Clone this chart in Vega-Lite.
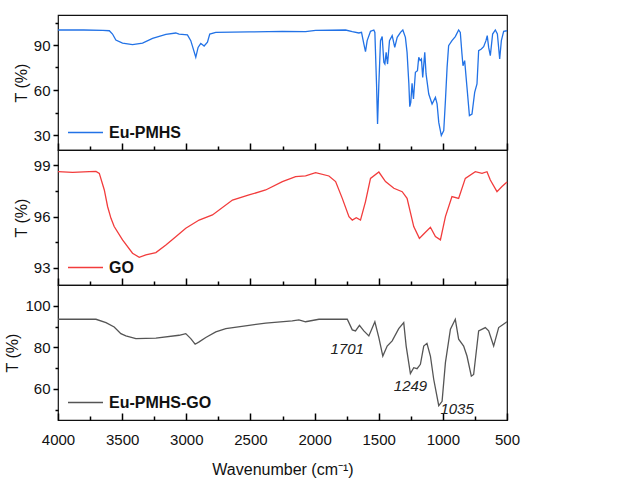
{
  "$schema": "https://vega.github.io/schema/vega-lite/v6.json",
  "padding": {"left": 4, "top": 14, "right": 5, "bottom": 5},
  "spacing": 0,
  "bounds": "flush",
  "config": {
    "font": "Liberation Sans",
    "view": {"stroke": "#111", "strokeWidth": 1.2},
    "axis": {"grid": false, "domain": false, "format": "d", "labelFlush": false, "labelFont": "Liberation Sans", "labelFontSize": 15, "labelColor": "#111", "titleFont": "Liberation Sans", "titleFontSize": 16, "titleFontWeight": "normal", "titleColor": "#111"},
    "legend": {"orient": "bottom-left", "offset": 9, "padding": 0, "symbolType": "stroke", "symbolSize": 1225, "symbolStrokeWidth": 1.5, "labelFontSize": 16, "labelFontWeight": "bold", "labelColor": "#111", "labelOffset": 5, "labelFont": "Liberation Sans"}
  },
  "datasets": {
    "pmhs": [
      {"w":4000,"t":100},{"w":3800,"t":100},{"w":3650,"t":99.7},{"w":3600,"t":99.5},{"w":3575,"t":97.3},{"w":3549,"t":93.3},{"w":3497,"t":91.3},{"w":3419,"t":90.2},{"w":3341,"t":91.3},{"w":3263,"t":94.4},{"w":3159,"t":97.1},{"w":3082,"t":98},{"w":3056,"t":97.3},{"w":2991,"t":96.7},{"w":2965,"t":92.9},{"w":2926,"t":81.8},{"w":2908,"t":88.4},{"w":2887,"t":91.1},{"w":2861,"t":89.3},{"w":2835,"t":91.8},{"w":2817,"t":97.3},{"w":2770,"t":98.4},{"w":2511,"t":98.7},{"w":2251,"t":99.1},{"w":2070,"t":98.9},{"w":1992,"t":99.8},{"w":1758,"t":100},{"w":1706,"t":98.9},{"w":1655,"t":98},{"w":1634,"t":98.4},{"w":1616,"t":90.7},{"w":1603,"t":85.6},{"w":1590,"t":92.9},{"w":1564,"t":99.1},{"w":1538,"t":100},{"w":1530,"t":98.4},{"w":1517,"t":64},{"w":1509,"t":37.3},{"w":1499,"t":64},{"w":1486,"t":92.9},{"w":1473,"t":95.6},{"w":1460,"t":78.4},{"w":1452,"t":77.3},{"w":1442,"t":85.1},{"w":1431,"t":77.3},{"w":1416,"t":92.9},{"w":1395,"t":96.2},{"w":1375,"t":88.4},{"w":1356,"t":95.1},{"w":1330,"t":98.4},{"w":1312,"t":100},{"w":1292,"t":95.1},{"w":1279,"t":85.1},{"w":1265,"t":64},{"w":1258,"t":48.9},{"w":1250,"t":51.8},{"w":1240,"t":64.4},{"w":1229,"t":54},{"w":1214,"t":71.8},{"w":1198,"t":72.9},{"w":1188,"t":81.8},{"w":1177,"t":79.6},{"w":1167,"t":80.7},{"w":1157,"t":68.4},{"w":1141,"t":85.1},{"w":1131,"t":70.7},{"w":1110,"t":57.3},{"w":1084,"t":50.7},{"w":1058,"t":55.1},{"w":1045,"t":50.7},{"w":1032,"t":38.4},{"w":1012,"t":29.6},{"w":993,"t":32.9},{"w":980,"t":52.9},{"w":967,"t":75.1},{"w":955,"t":89.6},{"w":929,"t":92.9},{"w":903,"t":95.6},{"w":877,"t":100},{"w":864,"t":98.4},{"w":851,"t":84},{"w":843,"t":76.2},{"w":830,"t":79.6},{"w":812,"t":61.8},{"w":793,"t":42.9},{"w":773,"t":44},{"w":752,"t":58.4},{"w":734,"t":64},{"w":721,"t":86.2},{"w":700,"t":87.3},{"w":682,"t":88.9},{"w":664,"t":92.9},{"w":654,"t":96.2},{"w":643,"t":88.4},{"w":630,"t":82.9},{"w":612,"t":97.3},{"w":591,"t":100},{"w":575,"t":97.3},{"w":557,"t":80.7},{"w":544,"t":92.9},{"w":526,"t":99.1},{"w":500,"t":99.5}
    ],
    "go": [
      {"w":4000,"t":98.63},{"w":3886,"t":98.59},{"w":3756,"t":98.63},{"w":3704,"t":98.65},{"w":3678,"t":98.53},{"w":3639,"t":97.56},{"w":3613,"t":96.58},{"w":3587,"t":95.9},{"w":3562,"t":95.42},{"w":3497,"t":94.64},{"w":3419,"t":93.86},{"w":3367,"t":93.62},{"w":3315,"t":93.76},{"w":3237,"t":93.9},{"w":3159,"t":94.34},{"w":3082,"t":94.83},{"w":3004,"t":95.32},{"w":2900,"t":95.8},{"w":2796,"t":96.1},{"w":2640,"t":96.97},{"w":2511,"t":97.27},{"w":2381,"t":97.56},{"w":2251,"t":98.05},{"w":2148,"t":98.34},{"w":2070,"t":98.38},{"w":1992,"t":98.57},{"w":1888,"t":98.38},{"w":1836,"t":98.05},{"w":1784,"t":97.07},{"w":1732,"t":96},{"w":1706,"t":95.8},{"w":1675,"t":95.94},{"w":1642,"t":95.8},{"w":1603,"t":96.88},{"w":1564,"t":98.24},{"w":1499,"t":98.61},{"w":1447,"t":98.05},{"w":1382,"t":97.66},{"w":1317,"t":97.46},{"w":1279,"t":97.07},{"w":1227,"t":95.42},{"w":1183,"t":94.73},{"w":1157,"t":94.93},{"w":1097,"t":95.38},{"w":1058,"t":94.83},{"w":1019,"t":94.64},{"w":980,"t":96},{"w":929,"t":97.17},{"w":877,"t":97.07},{"w":825,"t":98.24},{"w":747,"t":98.63},{"w":695,"t":98.53},{"w":656,"t":98.63},{"w":630,"t":98.14},{"w":578,"t":97.46},{"w":539,"t":97.76},{"w":500,"t":98.03}
    ],
    "pmhsgo": [
      {"w":4000,"t":93.5},{"w":3704,"t":93.5},{"w":3626,"t":91.9},{"w":3562,"t":89.8},{"w":3510,"t":86.6},{"w":3471,"t":85.5},{"w":3393,"t":84.2},{"w":3237,"t":84.4},{"w":3056,"t":85.8},{"w":3004,"t":86.6},{"w":2965,"t":84.2},{"w":2931,"t":81.5},{"w":2900,"t":82.6},{"w":2848,"t":84.7},{"w":2770,"t":87.4},{"w":2692,"t":89},{"w":2511,"t":90.6},{"w":2381,"t":91.6},{"w":2174,"t":92.7},{"w":2122,"t":93.2},{"w":2070,"t":92.3},{"w":1966,"t":93.5},{"w":1745,"t":93.5},{"w":1706,"t":88.4},{"w":1681,"t":87.9},{"w":1650,"t":90.6},{"w":1616,"t":87.9},{"w":1577,"t":85.5},{"w":1530,"t":92.3},{"w":1499,"t":84.7},{"w":1468,"t":75.8},{"w":1434,"t":80.6},{"w":1395,"t":83.1},{"w":1344,"t":89},{"w":1305,"t":91.9},{"w":1286,"t":80.6},{"w":1253,"t":67.4},{"w":1227,"t":70.2},{"w":1201,"t":69.7},{"w":1175,"t":71.8},{"w":1149,"t":80.6},{"w":1124,"t":81.9},{"w":1097,"t":75.8},{"w":1071,"t":64.5},{"w":1032,"t":51.9},{"w":1006,"t":54},{"w":980,"t":72.6},{"w":941,"t":88.7},{"w":903,"t":93.5},{"w":877,"t":83.9},{"w":838,"t":80.6},{"w":812,"t":75.8},{"w":778,"t":66.1},{"w":760,"t":66.9},{"w":721,"t":87.9},{"w":669,"t":89.5},{"w":643,"t":87.9},{"w":604,"t":80.6},{"w":565,"t":89.5},{"w":539,"t":90.6},{"w":500,"t":92.3}
    ],
    "peaks": [
      {"w":1745,"t":79,"label":"1701"},{"w":1252,"t":61.3,"label":"1249"},{"w":889,"t":50.3,"label":"1035"}
    ]
  },
  "resolve": {"scale": {"color": "independent"}},
  "vconcat": [
    {
      "width": 449, "height": 135,
      "resolve": {"axis": {"x": "independent", "y": "independent"}},
      "layer": [
        {
          "data": {"name": "pmhs"},
          "mark": {"type": "line", "strokeWidth": 1.3},
          "encoding": {
            "x": {"field": "w", "type": "quantitative", "scale": {"domain": [4000, 500], "nice": false}, "axis": null},
            "y": {"field": "t", "type": "quantitative", "scale": {"domain": [20, 110], "nice": false, "zero": false}, "axis": {"orient": "left", "values": [30,60,90], "title": "T (%)", "tickSize": 5, "tickColor": "#000", "tickWidth": 1.5, "labelPadding": 3, "titlePadding": 4}},
            "color": {"datum": "Eu-PMHS", "scale": {"range": ["#2272e6"]}, "legend": {"title": null}}
          }
        },
        {
          "data": {"name": "pmhs"},
          "mark": {"type": "line", "opacity": 0},
          "encoding": {
            "x": {"field": "w", "type": "quantitative", "axis": {"orient": "bottom", "offset": -7, "values": [4000,3500,3000,2500,2000,1500,1000,500], "labels": false, "title": null, "tickSize": 7, "tickColor": "#000", "tickWidth": 1.5}},
            "y": {"field": "t", "type": "quantitative", "axis": {"orient": "left", "values": [45,75,105], "labels": false, "title": null, "tickSize": 3, "tickColor": "#000", "tickWidth": 1.5}}
          }
        },
        {
          "data": {"name": "pmhs"},
          "mark": {"type": "line", "opacity": 0},
          "encoding": {
            "x": {"field": "w", "type": "quantitative", "axis": {"orient": "bottom", "offset": -4, "values": [3750,3250,2750,2250,1750,1250,750], "labels": false, "title": null, "tickSize": 4, "tickColor": "#000", "tickWidth": 1.5}},
            "y": {"field": "t", "type": "quantitative", "axis": null}
          }
        }
      ]
    },
    {
      "width": 449, "height": 135,
      "resolve": {"axis": {"x": "independent", "y": "independent"}},
      "layer": [
        {
          "data": {"name": "go"},
          "mark": {"type": "line", "strokeWidth": 1.3},
          "encoding": {
            "x": {"field": "w", "type": "quantitative", "scale": {"domain": [4000, 500], "nice": false}, "axis": null},
            "y": {"field": "t", "type": "quantitative", "scale": {"domain": [92, 99.9], "nice": false, "zero": false}, "axis": {"orient": "left", "values": [93,96,99], "title": "T (%)", "tickSize": 5, "tickColor": "#000", "tickWidth": 1.5, "labelPadding": 3, "titlePadding": 4}},
            "color": {"datum": "GO", "scale": {"range": ["#f23c3c"]}, "legend": {"title": null}}
          }
        },
        {
          "data": {"name": "go"},
          "mark": {"type": "line", "opacity": 0},
          "encoding": {
            "x": {"field": "w", "type": "quantitative", "axis": {"orient": "bottom", "offset": -7, "values": [4000,3500,3000,2500,2000,1500,1000,500], "labels": false, "title": null, "tickSize": 7, "tickColor": "#000", "tickWidth": 1.5}},
            "y": {"field": "t", "type": "quantitative", "axis": {"orient": "left", "values": [94.5,97.5], "labels": false, "title": null, "tickSize": 3, "tickColor": "#000", "tickWidth": 1.5}}
          }
        },
        {
          "data": {"name": "go"},
          "mark": {"type": "line", "opacity": 0},
          "encoding": {
            "x": {"field": "w", "type": "quantitative", "axis": {"orient": "bottom", "offset": -4, "values": [3750,3250,2750,2250,1750,1250,750], "labels": false, "title": null, "tickSize": 4, "tickColor": "#000", "tickWidth": 1.5}},
            "y": {"field": "t", "type": "quantitative", "axis": null}
          }
        }
      ]
    },
    {
      "width": 449, "height": 135,
      "resolve": {"axis": {"x": "independent", "y": "independent"}},
      "layer": [
        {
          "data": {"name": "pmhsgo"},
          "mark": {"type": "line", "strokeWidth": 1.3},
          "encoding": {
            "x": {"field": "w", "type": "quantitative", "scale": {"domain": [4000, 500], "nice": false}, "axis": {"orient": "bottom", "values": [4000,3500,3000,2500,2000,1500,1000,500], "ticks": false, "title": "Wavenumber (cm⁻¹)", "labelPadding": 12, "titlePadding": 14}},
            "y": {"field": "t", "type": "quantitative", "scale": {"domain": [45, 110], "nice": false, "zero": false}, "axis": {"orient": "left", "values": [60,80,100], "title": "T (%)", "tickSize": 5, "tickColor": "#000", "tickWidth": 1.5, "labelPadding": 3, "titlePadding": 4}},
            "color": {"datum": "Eu-PMHS-GO", "scale": {"range": ["#555555"]}, "legend": {"title": null}}
          }
        },
        {
          "data": {"name": "pmhsgo"},
          "mark": {"type": "line", "opacity": 0},
          "encoding": {
            "x": {"field": "w", "type": "quantitative", "axis": {"orient": "bottom", "offset": -7, "values": [4000,3500,3000,2500,2000,1500,1000,500], "labels": false, "title": null, "tickSize": 7, "tickColor": "#000", "tickWidth": 1.5}},
            "y": {"field": "t", "type": "quantitative", "axis": {"orient": "left", "values": [50,70,90], "labels": false, "title": null, "tickSize": 3, "tickColor": "#000", "tickWidth": 1.5}}
          }
        },
        {
          "data": {"name": "pmhsgo"},
          "mark": {"type": "line", "opacity": 0},
          "encoding": {
            "x": {"field": "w", "type": "quantitative", "axis": {"orient": "bottom", "offset": -4, "values": [3750,3250,2750,2250,1750,1250,750], "labels": false, "title": null, "tickSize": 4, "tickColor": "#000", "tickWidth": 1.5}},
            "y": {"field": "t", "type": "quantitative", "axis": null}
          }
        },
        {
          "data": {"name": "peaks"},
          "mark": {"type": "text", "fontSize": 15, "fontStyle": "italic", "color": "#222", "font": "Liberation Sans"},
          "encoding": {
            "x": {"field": "w", "type": "quantitative", "axis": null},
            "y": {"field": "t", "type": "quantitative", "axis": null},
            "text": {"field": "label"}
          }
        }
      ]
    }
  ]
}
